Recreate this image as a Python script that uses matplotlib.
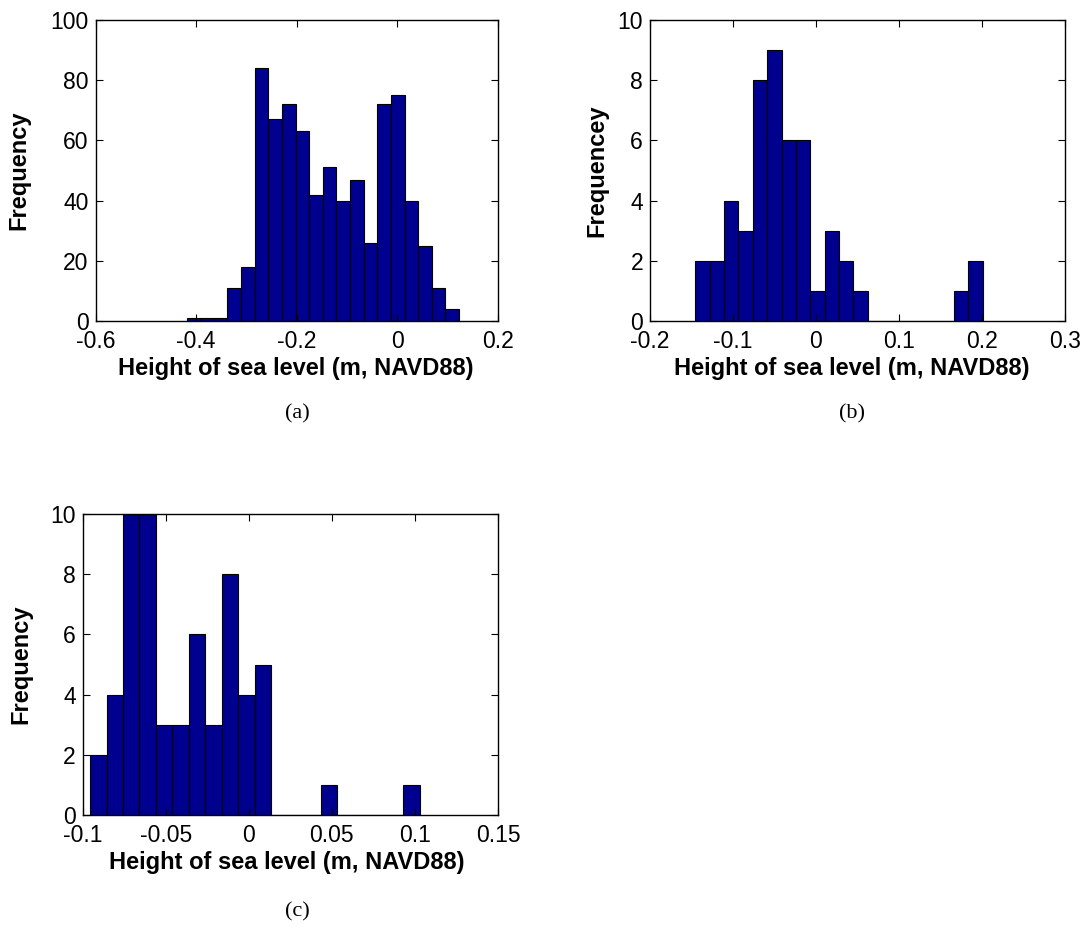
import numpy as np
import matplotlib
matplotlib.use("Agg")
import matplotlib.pyplot as plt

# ---- data ----
counts_a = [1, 1, 1, 11, 18, 84, 67, 72, 63, 42, 51, 40, 47, 26, 72, 75, 40, 25, 11, 4]
range_a = (-0.419, 0.1225)
counts_b = [2, 2, 4, 3, 8, 9, 6, 6, 1, 3, 2, 1, 0, 0, 0, 0, 0, 0, 1, 2]
range_b = (-0.1454, 0.2008)
counts_c = [2, 4, 10, 10, 3, 3, 6, 3, 8, 4, 5, 0, 0, 0, 1, 0, 0, 0, 0, 1]
range_c = (-0.0956, 0.1030)

xticks_a = [-0.6, -0.4, -0.2, 0, 0.2]
xticklabels_a = ["-0.6", "-0.4", "-0.2", "0", "0.2"]
yticks_a = [0, 20, 40, 60, 80, 100]
xticks_b = [-0.2, -0.1, 0, 0.1, 0.2, 0.3]
xticklabels_b = ["-0.2", "-0.1", "0", "0.1", "0.2", "0.3"]
yticks_b = [0, 2, 4, 6, 8, 10]
xticks_c = [-0.1, -0.05, 0, 0.05, 0.1, 0.15]
xticklabels_c = ["-0.1", "-0.05", "0", "0.05", "0.1", "0.15"]
yticks_c = [0, 2, 4, 6, 8, 10]

xlabel = "Height of sea level (m, NAVD88)"
ylabels = ["Frequency", "Frequencey", "Frequency"]
captions = ["(a)", "(b)", "(c)"]

# ---- style ----
W, H = 1088, 951
plt.rcParams['font.family'] = ['Liberation Sans', 'DejaVu Sans']
fig = plt.figure(figsize=(W / 100, H / 100), dpi=100)
fig.patch.set_facecolor('white')

BAR = '#00008F'


def px_axes(l, t, r, b):
    return [l / W, 1 - b / H, (r - l) / W, (b - t) / H]


panels = [
    dict(box=(95.5, 20, 498, 321), counts=counts_a, rng=range_a, xlim=(-0.6, 0.2), ylim=(0, 100),
         xt=xticks_a, xtl=xticklabels_a, yt=yticks_a, ylab=ylabels[0], ylx=19, xlx=295.7, xly=368,
         cap=captions[0], capxy=(297, 414)),
    dict(box=(650, 20, 1065, 321), counts=counts_b, rng=range_b, xlim=(-0.2, 0.3), ylim=(0, 10),
         xt=xticks_b, xtl=xticklabels_b, yt=yticks_b, ylab=ylabels[1], ylx=597, xlx=851.7, xly=368,
         cap=captions[1], capxy=(852, 414)),
    dict(box=(82.7, 514, 498, 815), counts=counts_c, rng=range_c, xlim=(-0.1, 0.15), ylim=(0, 10),
         xt=xticks_c, xtl=xticklabels_c, yt=yticks_c, ylab=ylabels[2], ylx=21, xlx=287, xly=862,
         cap=captions[2], capxy=(297, 912)),
]

for p in panels:
    l, t, r, b = p['box']
    ax = fig.add_axes(px_axes(l, t, r, b))
    counts = np.array(p['counts'])
    edges = np.linspace(p['rng'][0], p['rng'][1], len(counts) + 1)
    ax.bar(edges[:-1], counts, width=np.diff(edges), align='edge',
           color=BAR, edgecolor='black', linewidth=0.8)
    ax.set_xlim(*p['xlim'])
    ax.set_ylim(*p['ylim'])
    ax.set_xticks(p['xt'])
    ax.set_xticklabels(p['xtl'])
    ax.set_yticks(p['yt'])
    ax.set_yticklabels([str(v) for v in p['yt']])
    ax.tick_params(direction='in', top=True, right=True, length=5, width=0.8,
                   labelsize=16.5, colors='black')
    ax.tick_params(axis='x', pad=6.5)
    ax.tick_params(axis='y', pad=5)
    for s in ax.spines.values():
        s.set_linewidth(1.0)
        s.set_color('black')
    ax.set_xlabel(xlabel, fontsize=17, fontweight='bold', va='center', ha='center')
    ax.xaxis.set_label_coords((p['xlx'] - l) / (r - l), (b - p['xly']) / (b - t))
    ax.set_ylabel(p['ylab'], fontsize=17, fontweight='bold', va='center', ha='center')
    ax.yaxis.set_label_coords((p['ylx'] - l) / (r - l), 0.5)
    cx, cy = p['capxy']
    fig.text(cx / W, 1 - cy / H, p['cap'], fontsize=16, ha='center', va='center',
             family=['Liberation Serif', 'DejaVu Serif'])

fig.savefig('out.png', dpi=100, facecolor='white')
